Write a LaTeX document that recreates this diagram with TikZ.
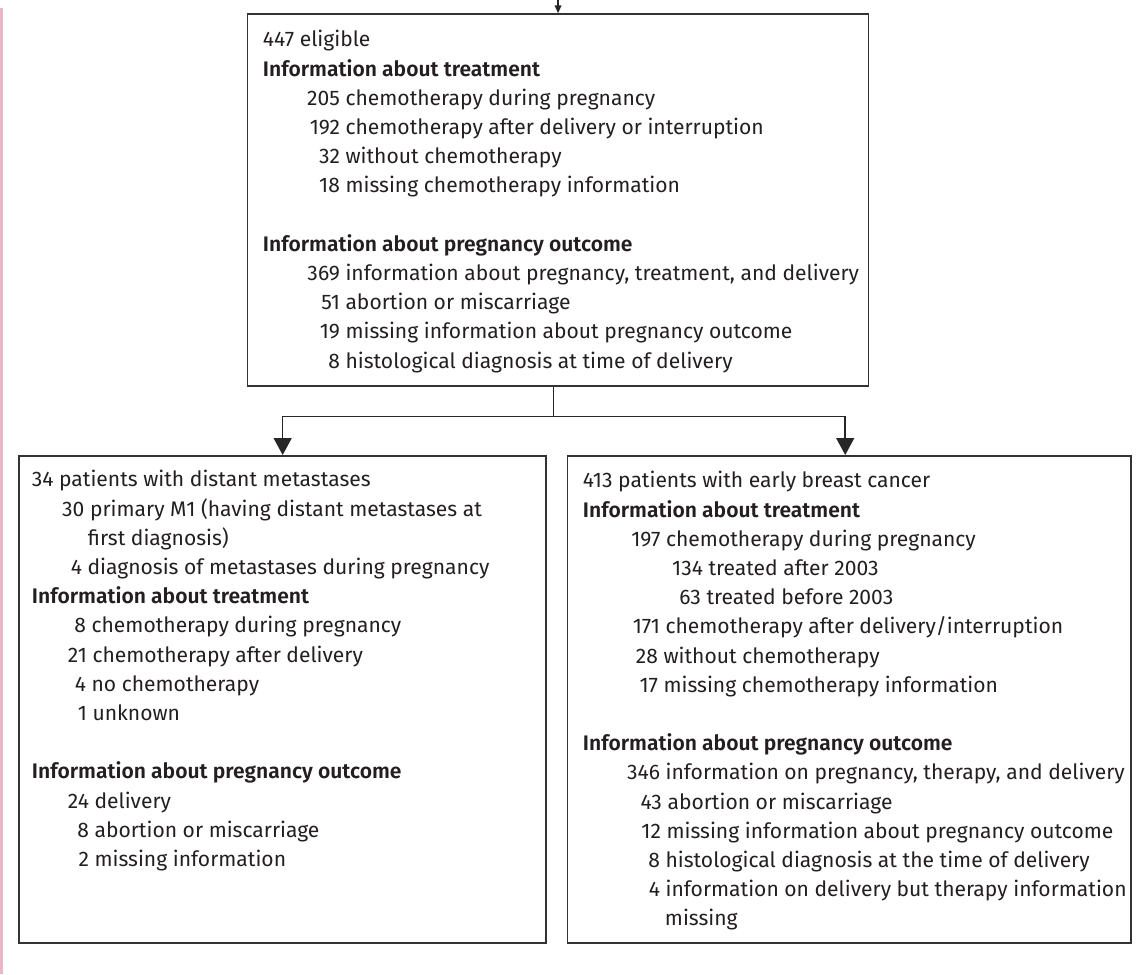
\documentclass[tikz,border=0pt]{standalone}
\usepackage{fontspec}
\setmainfont{Fira Sans}[Numbers=Lining, BoldFont={Fira Sans SemiBold}]
\usetikzlibrary{positioning,arrows.meta}
\newlength{\px}
\setlength{\px}{0.75pt}
\newcommand{\cnt}[2]{\makebox[#1\px][r]{#2}\ }
\definecolor{inkgray}{HTML}{231F20}
\definecolor{marginpink}{RGB}{236,182,202}

\begin{document}
\begin{tikzpicture}[
  x=0.75pt, y=-0.75pt,
  frame/.style={draw=black!80, line width=1.3pt, inner sep=0pt, anchor=north west},
  boxtext/.style={anchor=north west, inner sep=0pt, align=left, text=inkgray, font=\fontsize{15.8pt}{21.9pt}\selectfont},
  flow/.style={line width=1.1pt, draw=black!85, -{Triangle[width=13.5pt,length=12.75pt]}},
  >=stealth
]
\useasboundingbox (0,0) rectangle (1144,974);

% Margin rule
\draw[marginpink, line width=1.5pt] (1.5,8) -- (1.5,974);

% Frames
\node[frame, minimum width=621\px, minimum height=371.7\px] (elig) at (246.7,13.3) {};
\node[frame, minimum width=527\px, minimum height=487\px] (meta) at (18.3,455) {};
\node[frame, minimum width=563.3\px, minimum height=487\px] (early) at (566.7,455) {};

% Texts
\node[boxtext] (eligtxt) at (262.7,22.7) {\rule{0pt}{18pt}447 eligible\\
\textbf{Information about treatment}\\
\cnt{77}{205}chemotherapy during pregnancy\\
\cnt{77}{192}chemotherapy after delivery or interruption\\
\cnt{77}{32}without chemotherapy\\
\cnt{77}{18}missing chemotherapy information\\[21.9pt]
\textbf{Information about pregnancy outcome}\\
\cnt{77}{369}information about pregnancy, treatment, and delivery\\
\cnt{77}{51}abortion or miscarriage\\
\cnt{77}{19}missing information about pregnancy outcome\\
\cnt{77}{8}histological diagnosis at time of delivery};

\node[boxtext] (metatxt) at (31.7,462.7) {\rule{0pt}{18pt}34 patients with distant metastases\\
\cnt{52.5}{30}primary M1 (having distant metastases at\\
\hspace*{56\px}first diagnosis)\\
\cnt{50}{4}diagnosis of metastases during pregnancy\\
\textbf{Information about treatment}\\
\cnt{54}{8}chemotherapy during pregnancy\\
\cnt{55}{21}chemotherapy after delivery\\
\cnt{54}{4}no chemotherapy\\
\cnt{55}{1}unknown\\[21.9pt]
\textbf{Information about pregnancy outcome}\\
\cnt{57}{24}delivery\\
\cnt{57}{8}abortion or miscarriage\\
\cnt{57}{2}missing information};

\node[boxtext] (earlytxt) at (582.7,463.7) {\rule{0pt}{18pt}413 patients with early breast cancer\\
\textbf{Information about treatment}\\
\cnt{77.5}{197}chemotherapy during pregnancy\\
\cnt{120}{134}treated after 2003\\
\cnt{118}{63}treated before 2003\\
\cnt{77}{171}chemotherapy after delivery/interruption\\
\cnt{75}{28}without chemotherapy\\
\cnt{75}{17}missing chemotherapy information\\[21.9pt]
\textbf{Information about pregnancy outcome}\\
\cnt{77}{346}information on pregnancy, therapy, and delivery\\
\cnt{79}{43}abortion or miscarriage\\
\cnt{78}{12}missing information about pregnancy outcome\\
\cnt{77}{8}histological diagnosis at the time of delivery\\
\cnt{77}{4}information on delivery but therapy information\\
\hspace*{82\px}missing};

% Connectors
\coordinate (feed) at ([yshift=20pt]elig.north);
\draw[flow, -{Triangle[width=5pt,length=6pt]}] (feed) -- (elig.north);
\coordinate (split) at (553.3,416.7);
\draw[line width=1.1pt, draw=black!85] (elig.south -| split) -- (split);
\draw[flow] (split) -| (meta.north);
\draw[flow] (split) -| ([xshift=-3pt]early.north);

\end{tikzpicture}
\end{document}
